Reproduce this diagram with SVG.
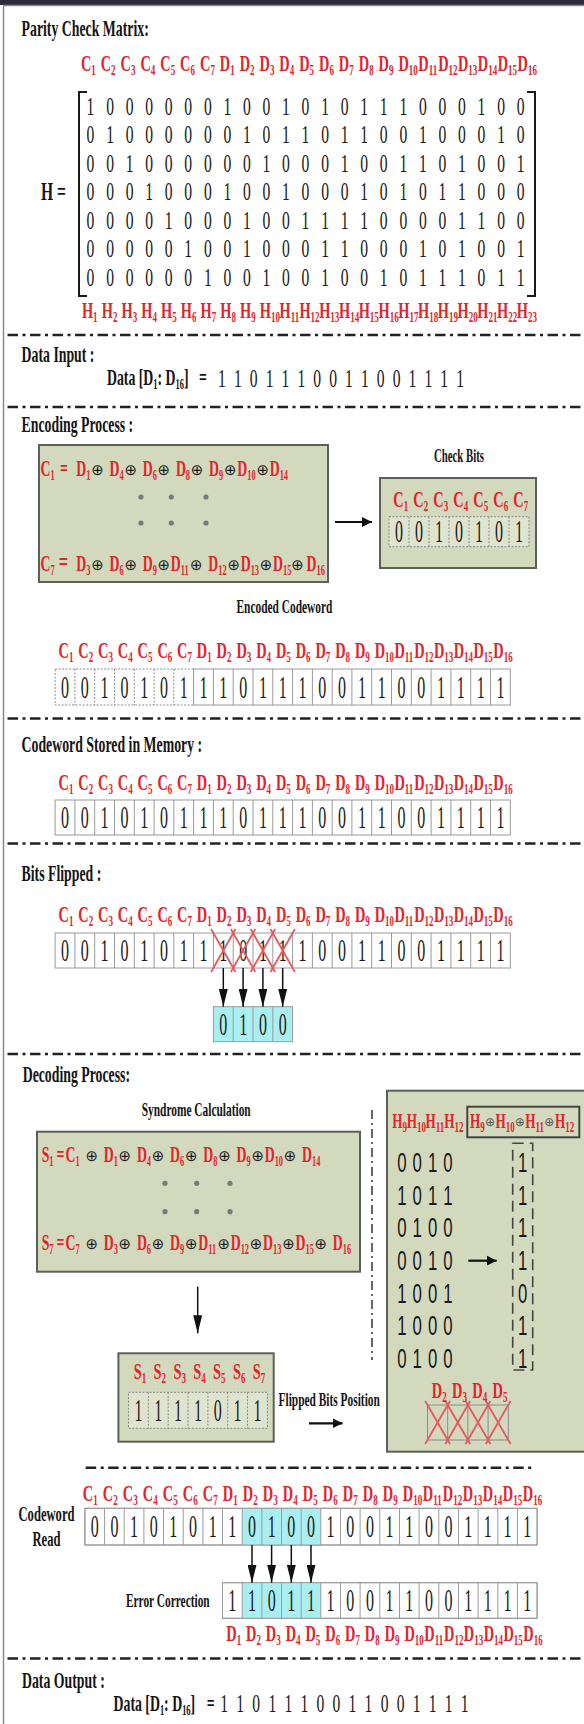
<svg xmlns="http://www.w3.org/2000/svg" width="584" height="1724" viewBox="0 0 584 1724">
<defs>
<style>
text{font-family:"Liberation Serif","Times New Roman",serif}
.hd{font-size:23px;font-weight:bold;fill:#141414}
.sm{font-size:19px;font-weight:bold;fill:#141414}
.lb{font-size:24px;font-weight:bold;fill:#e3242b}
.eq{font-size:23px;font-weight:bold;fill:#e3242b}
.s{font-size:14px;baseline-shift:-3.5px}
.lb .s{font-size:15px;baseline-shift:-4px}
.mx{font-size:26px;fill:#1a1a1a;text-anchor:middle}
.cd{font-size:32px;fill:#1a1a1a;text-anchor:middle}
.dd{font-size:26px;fill:#1a1a1a;text-anchor:middle}
.sn{font-family:"Liberation Sans",Arial,sans-serif;font-size:28px;fill:#1a1a1a;text-anchor:middle}
.op{font-family:"DejaVu Sans",sans-serif;font-size:15px;fill:#1a1a1a;text-anchor:middle}
.opg{font-family:"DejaVu Sans",sans-serif;font-size:12px;fill:#555;text-anchor:middle}
.sep{stroke:#222;stroke-width:2.5;stroke-dasharray:10.5 4.5 3 4.5;fill:none}
.vsep{stroke:#333;stroke-width:1.5;stroke-dasharray:9 4 2 4;fill:none}
.box{fill:#d3d9bd;stroke:#5e5e5a;stroke-width:2}
.cell{fill:#fff;stroke:#9a9a9a;stroke-width:1}
.grid{fill:none;stroke:#9a9a9a;stroke-width:1}
.dot{fill:none;stroke:#8a8a8a;stroke-width:1;stroke-dasharray:2 1.5}
.cy{fill:#a9eef0}
.xx{fill:none;stroke:#e6585e;stroke-width:1.8}
.ar{fill:none;stroke:#111;stroke-width:1.5}
.arw{fill:none;stroke:#111;stroke-width:2.2}
.pt{fill:#7a7a7a}
</style>
<marker id="head" viewBox="0 0 10 10" refX="10" refY="5" markerWidth="10" markerHeight="11" markerUnits="userSpaceOnUse" orient="auto"><path d="M0,0L10,5L0,10z" fill="#111"/></marker>
<marker id="headlong" viewBox="0 0 20 10" refX="20" refY="5" markerWidth="18" markerHeight="9" markerUnits="userSpaceOnUse" orient="auto"><path d="M0,0L20,5L0,10z" fill="#111"/></marker>
</defs>

<rect width="584" height="1724" fill="#fff"/>

<!-- outer frame -->
<g id="frame">
<rect x="0" y="0" width="584" height="5" fill="#2c2c3c"/>
<path d="M3.5 5.5H584M3.5 5.5V1724" fill="none" stroke="#8a8a8a" stroke-width="1.5"/>
</g>

<!-- section separators -->
<g id="separators">
<path class="sep" d="M7.5 335H584M7.5 407H584M7.5 718.5H584M7.5 843.5H584M7.5 1054H584M7.5 1658.5H584"/>
<path class="sep" d="M85.7 1467.7H532.5"/>
<path class="vsep" d="M372 1110V1360"/>
</g>

<!-- parity check matrix -->
<g id="parity-matrix">
<path d="M87 92H79V296H87M527 92H535V296H527" fill="none" stroke="#1a1a1a" stroke-width="2"/>
<g transform="scale(0.6 1)">
<text class="hd" x="36" y="36">Parity Check Matrix:</text>
<text class="lb" y="71"><tspan x="134.8">C</tspan><tspan class="s">1</tspan><tspan x="167.8">C</tspan><tspan class="s">2</tspan><tspan x="200.9">C</tspan><tspan class="s">3</tspan><tspan x="234">C</tspan><tspan class="s">4</tspan><tspan x="267.1">C</tspan><tspan class="s">5</tspan><tspan x="300.2">C</tspan><tspan class="s">6</tspan><tspan x="333.3">C</tspan><tspan class="s">7</tspan><tspan x="366.3">D</tspan><tspan class="s">1</tspan><tspan x="399.4">D</tspan><tspan class="s">2</tspan><tspan x="432.5">D</tspan><tspan class="s">3</tspan><tspan x="465.6">D</tspan><tspan class="s">4</tspan><tspan x="498.7">D</tspan><tspan class="s">5</tspan><tspan x="531.8">D</tspan><tspan class="s">6</tspan><tspan x="564.8">D</tspan><tspan class="s">7</tspan><tspan x="597.9">D</tspan><tspan class="s">8</tspan><tspan x="631">D</tspan><tspan class="s">9</tspan><tspan x="664.1">D</tspan><tspan class="s">10</tspan><tspan x="697.2">D</tspan><tspan class="s">11</tspan><tspan x="730.3">D</tspan><tspan class="s">12</tspan><tspan x="763.3">D</tspan><tspan class="s">13</tspan><tspan x="796.4">D</tspan><tspan class="s">14</tspan><tspan x="829.5">D</tspan><tspan class="s">15</tspan><tspan x="862.6">D</tspan><tspan class="s">16</tspan></text>
<text class="hd" x="68.3" y="200.3" style="font-size:26px">H =</text>
<text class="mx" x="150.8 183.4 216 248.6 281.2 313.7 346.3 378.9 411.5 444.1 476.7 509.2 541.8 574.4 607 639.6 672.2 704.7 737.3 769.9 802.5 835.1 867.7" y="115">10000001001010111000100</text>
<text class="mx" x="150.8 183.4 216 248.6 281.2 313.7 346.3 378.9 411.5 444.1 476.7 509.2 541.8 574.4 607 639.6 672.2 704.7 737.3 769.9 802.5 835.1 867.7" y="143.5">01000000101101100100010</text>
<text class="mx" x="150.8 183.4 216 248.6 281.2 313.7 346.3 378.9 411.5 444.1 476.7 509.2 541.8 574.4 607 639.6 672.2 704.7 737.3 769.9 802.5 835.1 867.7" y="172">00100000010001001101001</text>
<text class="mx" x="150.8 183.4 216 248.6 281.2 313.7 346.3 378.9 411.5 444.1 476.7 509.2 541.8 574.4 607 639.6 672.2 704.7 737.3 769.9 802.5 835.1 867.7" y="200.5">00010001001000101011000</text>
<text class="mx" x="150.8 183.4 216 248.6 281.2 313.7 346.3 378.9 411.5 444.1 476.7 509.2 541.8 574.4 607 639.6 672.2 704.7 737.3 769.9 802.5 835.1 867.7" y="229">00001000100111100001100</text>
<text class="mx" x="150.8 183.4 216 248.6 281.2 313.7 346.3 378.9 411.5 444.1 476.7 509.2 541.8 574.4 607 639.6 672.2 704.7 737.3 769.9 802.5 835.1 867.7" y="257.5">00000100100011000101001</text>
<text class="mx" x="150.8 183.4 216 248.6 281.2 313.7 346.3 378.9 411.5 444.1 476.7 509.2 541.8 574.4 607 639.6 672.2 704.7 737.3 769.9 802.5 835.1 867.7" y="286">00000010010010010111011</text>
<text class="lb" y="318"><tspan x="136.5">H</tspan><tspan class="s">1</tspan><tspan x="169.5">H</tspan><tspan class="s">2</tspan><tspan x="202.4">H</tspan><tspan class="s">3</tspan><tspan x="235.4">H</tspan><tspan class="s">4</tspan><tspan x="268.3">H</tspan><tspan class="s">5</tspan><tspan x="301.3">H</tspan><tspan class="s">6</tspan><tspan x="334.2">H</tspan><tspan class="s">7</tspan><tspan x="367.2">H</tspan><tspan class="s">8</tspan><tspan x="400.1">H</tspan><tspan class="s">9</tspan><tspan x="433.1">H</tspan><tspan class="s">10</tspan><tspan x="466">H</tspan><tspan class="s">11</tspan><tspan x="499">H</tspan><tspan class="s">12</tspan><tspan x="531.9">H</tspan><tspan class="s">13</tspan><tspan x="564.9">H</tspan><tspan class="s">14</tspan><tspan x="597.8">H</tspan><tspan class="s">15</tspan><tspan x="630.8">H</tspan><tspan class="s">16</tspan><tspan x="663.7">H</tspan><tspan class="s">17</tspan><tspan x="696.7">H</tspan><tspan class="s">18</tspan><tspan x="729.6">H</tspan><tspan class="s">19</tspan><tspan x="762.6">H</tspan><tspan class="s">20</tspan><tspan x="795.5">H</tspan><tspan class="s">21</tspan><tspan x="828.5">H</tspan><tspan class="s">22</tspan><tspan x="861.4">H</tspan><tspan class="s">23</tspan></text>
</g>
</g>

<!-- data input -->
<g id="data-input">
<g transform="scale(0.6 1)">
<text class="hd" x="36" y="362">Data Input :</text>
<text class="hd" x="178.3" y="385">Data [D<tspan class="s">1</tspan>: D<tspan class="s">16</tspan>]</text>
<text class="hd" x="331.7" y="385">=</text>
<text class="dd" x="370 396.5 422.9 449.4 475.8 502.3 528.7 555.2 581.6 608.1 634.5 661 687.4 713.9 740.3 766.8" y="387">1101110011001111</text>
</g>
</g>

<!-- encoding process -->
<g id="encoding">
<rect class="box" x="39" y="445" width="289" height="137"/>
<circle class="pt" cx="141" cy="497" r="2.6"/><circle class="pt" cx="171.3" cy="497" r="2.6"/><circle class="pt" cx="206" cy="497" r="2.6"/>
<circle class="pt" cx="141" cy="523" r="2.6"/><circle class="pt" cx="171.3" cy="523" r="2.6"/><circle class="pt" cx="206" cy="523" r="2.6"/>
<text class="op" x="97.5" y="475">⊕</text><text class="op" x="130.7" y="475">⊕</text><text class="op" x="163.9" y="475">⊕</text><text class="op" x="197.1" y="475">⊕</text><text class="op" x="230.3" y="475">⊕</text><text class="op" x="262.7" y="475">⊕</text>
<text class="op" x="97.5" y="569.5">⊕</text><text class="op" x="130.7" y="569.5">⊕</text><text class="op" x="163.9" y="569.5">⊕</text><text class="op" x="196.3" y="569.5">⊕</text><text class="op" x="233.7" y="569.5">⊕</text><text class="op" x="266.1" y="569.5">⊕</text><text class="op" x="297.5" y="569.5">⊕</text>
<rect class="box" x="380" y="478" width="156" height="90"/>
<rect x="389" y="516.7" width="140" height="30" fill="#dfe4cf"/>
<rect class="dot" x="389" y="516.7" width="140" height="30"/>
<path class="dot" d="M409 516.7v30M429 516.7v30M449 516.7v30M469 516.7v30M489 516.7v30M509 516.7v30"/>
<g transform="scale(0.6 1)">
<text class="hd" x="36" y="432">Encoding Process :</text>
<text class="eq" y="476.5"><tspan x="67.5">C</tspan><tspan class="s">1</tspan><tspan x="100">=</tspan><tspan x="127.2">D</tspan><tspan class="s">1</tspan><tspan x="182.5">D</tspan><tspan class="s">4</tspan><tspan x="237.8">D</tspan><tspan class="s">6</tspan><tspan x="293.2">D</tspan><tspan class="s">8</tspan><tspan x="348.5">D</tspan><tspan class="s">9</tspan><tspan x="395.5">D</tspan><tspan class="s">10</tspan><tspan x="449.5">D</tspan><tspan class="s">14</tspan></text>
<text class="eq" y="571"><tspan x="67.5">C</tspan><tspan class="s">7</tspan><tspan x="98" style="font-size:27px">=</tspan><tspan x="127.2">D</tspan><tspan class="s">3</tspan><tspan x="182.5">D</tspan><tspan class="s">6</tspan><tspan x="237.8">D</tspan><tspan class="s">9</tspan><tspan x="284.8">D</tspan><tspan class="s">11</tspan><tspan x="347.2">D</tspan><tspan class="s">12</tspan><tspan x="401.2">D</tspan><tspan class="s">13</tspan><tspan x="455.2">D</tspan><tspan class="s">15</tspan><tspan x="511">D</tspan><tspan class="s">16</tspan></text>
<text class="hd" x="723.3" y="461.7" style="font-size:18px">Check Bits</text>
<text class="lb" y="507"><tspan x="655.4">C</tspan><tspan class="s">1</tspan><tspan x="688.8">C</tspan><tspan class="s">2</tspan><tspan x="722.1">C</tspan><tspan class="s">3</tspan><tspan x="755.4">C</tspan><tspan class="s">4</tspan><tspan x="788.8">C</tspan><tspan class="s">5</tspan><tspan x="822.1">C</tspan><tspan class="s">6</tspan><tspan x="855.4">C</tspan><tspan class="s">7</tspan></text>
<text class="sm" x="394.2" y="613">Encoded Codeword</text>
<text class="lb" y="658"><tspan x="97.6">C</tspan><tspan class="s">1</tspan><tspan x="130.5">C</tspan><tspan class="s">2</tspan><tspan x="163.5">C</tspan><tspan class="s">3</tspan><tspan x="196.4">C</tspan><tspan class="s">4</tspan><tspan x="229.3">C</tspan><tspan class="s">5</tspan><tspan x="262.3">C</tspan><tspan class="s">6</tspan><tspan x="295.2">C</tspan><tspan class="s">7</tspan><tspan x="328.1">D</tspan><tspan class="s">1</tspan><tspan x="361">D</tspan><tspan class="s">2</tspan><tspan x="394">D</tspan><tspan class="s">3</tspan><tspan x="426.9">D</tspan><tspan class="s">4</tspan><tspan x="459.8">D</tspan><tspan class="s">5</tspan><tspan x="492.8">D</tspan><tspan class="s">6</tspan><tspan x="525.7">D</tspan><tspan class="s">7</tspan><tspan x="558.6">D</tspan><tspan class="s">8</tspan><tspan x="591.6">D</tspan><tspan class="s">9</tspan><tspan x="624.5">D</tspan><tspan class="s">10</tspan><tspan x="657.4">D</tspan><tspan class="s">11</tspan><tspan x="690.3">D</tspan><tspan class="s">12</tspan><tspan x="723.3">D</tspan><tspan class="s">13</tspan><tspan x="756.2">D</tspan><tspan class="s">14</tspan><tspan x="789.1">D</tspan><tspan class="s">15</tspan><tspan x="822.1">D</tspan><tspan class="s">16</tspan></text>
</g>
<rect class="dot" x="55.1" y="669" width="138.5" height="36"/>
<path class="dot" d="M74.9 669v36M94.7 669v36M114.5 669v36M134.3 669v36M154.1 669v36M173.8 669v36"/>
<rect class="cell" x="193.6" y="669" width="316.7" height="36"/>
<path class="grid" d="M213.4 669v36M233.2 669v36M253 669v36M272.8 669v36M292.6 669v36M312.4 669v36M332.2 669v36M351.9 669v36M371.7 669v36M391.5 669v36M411.3 669v36M431.1 669v36M450.9 669v36M470.7 669v36M490.5 669v36"/>
<g transform="scale(0.5 1)">
<text class="cd" x="798 838 878 918 958 998 1038" y="542.5">0010101</text>
<text class="cd" x="130 169.6 209.2 248.8 288.4 327.9 367.5 407.1 446.7 486.3 525.9 565.4 605 644.6 684.2 723.8 763.4 802.9 842.5 882.1 921.7 961.3 1000.8" y="698">00101011101110011001111</text>
</g>
</g>

<!-- codeword stored in memory -->
<g id="stored">
<rect class="cell" x="55.1" y="800" width="455.2" height="35"/>
<path class="grid" d="M74.9 800v35M94.7 800v35M114.5 800v35M134.3 800v35M154.1 800v35M173.8 800v35M193.6 800v35M213.4 800v35M233.2 800v35M253 800v35M272.8 800v35M292.6 800v35M312.4 800v35M332.2 800v35M351.9 800v35M371.7 800v35M391.5 800v35M411.3 800v35M431.1 800v35M450.9 800v35M470.7 800v35M490.5 800v35"/>
<g transform="scale(0.6 1)">
<text class="hd" x="36" y="751.7">Codeword Stored in Memory :</text>
<text class="lb" y="790"><tspan x="97.6">C</tspan><tspan class="s">1</tspan><tspan x="130.5">C</tspan><tspan class="s">2</tspan><tspan x="163.5">C</tspan><tspan class="s">3</tspan><tspan x="196.4">C</tspan><tspan class="s">4</tspan><tspan x="229.3">C</tspan><tspan class="s">5</tspan><tspan x="262.3">C</tspan><tspan class="s">6</tspan><tspan x="295.2">C</tspan><tspan class="s">7</tspan><tspan x="328.1">D</tspan><tspan class="s">1</tspan><tspan x="361">D</tspan><tspan class="s">2</tspan><tspan x="394">D</tspan><tspan class="s">3</tspan><tspan x="426.9">D</tspan><tspan class="s">4</tspan><tspan x="459.8">D</tspan><tspan class="s">5</tspan><tspan x="492.8">D</tspan><tspan class="s">6</tspan><tspan x="525.7">D</tspan><tspan class="s">7</tspan><tspan x="558.6">D</tspan><tspan class="s">8</tspan><tspan x="591.6">D</tspan><tspan class="s">9</tspan><tspan x="624.5">D</tspan><tspan class="s">10</tspan><tspan x="657.4">D</tspan><tspan class="s">11</tspan><tspan x="690.3">D</tspan><tspan class="s">12</tspan><tspan x="723.3">D</tspan><tspan class="s">13</tspan><tspan x="756.2">D</tspan><tspan class="s">14</tspan><tspan x="789.1">D</tspan><tspan class="s">15</tspan><tspan x="822.1">D</tspan><tspan class="s">16</tspan></text>
</g>
<g transform="scale(0.5 1)">
<text class="cd" x="130 169.6 209.2 248.8 288.4 327.9 367.5 407.1 446.7 486.3 525.9 565.4 605 644.6 684.2 723.8 763.4 802.9 842.5 882.1 921.7 961.3 1000.8" y="828.5">00101011101110011001111</text>
</g>
</g>

<!-- bits flipped -->
<g id="flipped">
<rect class="cell" x="55.1" y="933" width="455.2" height="35"/>
<path class="grid" d="M74.9 933v35M94.7 933v35M114.5 933v35M134.3 933v35M154.1 933v35M173.8 933v35M193.6 933v35M213.4 933v35M233.2 933v35M253 933v35M272.8 933v35M292.6 933v35M312.4 933v35M332.2 933v35M351.9 933v35M371.7 933v35M391.5 933v35M411.3 933v35M431.1 933v35M450.9 933v35M470.7 933v35M490.5 933v35"/>
<rect class="cell cy" x="213.4" y="1006.7" width="79.2" height="35"/>
<path class="grid" d="M233.2 1006.7v35M253 1006.7v35M272.8 1006.7v35"/>
<g transform="scale(0.6 1)">
<text class="hd" x="36" y="881">Bits Flipped :</text>
<text class="lb" y="922"><tspan x="97.6">C</tspan><tspan class="s">1</tspan><tspan x="130.5">C</tspan><tspan class="s">2</tspan><tspan x="163.5">C</tspan><tspan class="s">3</tspan><tspan x="196.4">C</tspan><tspan class="s">4</tspan><tspan x="229.3">C</tspan><tspan class="s">5</tspan><tspan x="262.3">C</tspan><tspan class="s">6</tspan><tspan x="295.2">C</tspan><tspan class="s">7</tspan><tspan x="328.1">D</tspan><tspan class="s">1</tspan><tspan x="361">D</tspan><tspan class="s">2</tspan><tspan x="394">D</tspan><tspan class="s">3</tspan><tspan x="426.9">D</tspan><tspan class="s">4</tspan><tspan x="459.8">D</tspan><tspan class="s">5</tspan><tspan x="492.8">D</tspan><tspan class="s">6</tspan><tspan x="525.7">D</tspan><tspan class="s">7</tspan><tspan x="558.6">D</tspan><tspan class="s">8</tspan><tspan x="591.6">D</tspan><tspan class="s">9</tspan><tspan x="624.5">D</tspan><tspan class="s">10</tspan><tspan x="657.4">D</tspan><tspan class="s">11</tspan><tspan x="690.3">D</tspan><tspan class="s">12</tspan><tspan x="723.3">D</tspan><tspan class="s">13</tspan><tspan x="756.2">D</tspan><tspan class="s">14</tspan><tspan x="789.1">D</tspan><tspan class="s">15</tspan><tspan x="822.1">D</tspan><tspan class="s">16</tspan></text>
</g>
<g transform="scale(0.5 1)">
<text class="cd" x="130 169.6 209.2 248.8 288.4 327.9 367.5 407.1 446.7 486.3 525.9 565.4 605 644.6 684.2 723.8 763.4 802.9 842.5 882.1 921.7 961.3 1000.8" y="961.3">00101011101110011001111</text>
<text class="cd" x="446.7 486.3 525.9 565.4" y="1035">0100</text>
</g>
<path class="xx" d="M211.1 929L235.5 972M235.5 929L211.1 972M230.9 929L255.3 972M255.3 929L230.9 972M250.7 929L275.1 972M275.1 929L250.7 972M270.5 929L294.9 972M294.9 929L270.5 972"/>
</g>

<!-- decoding process -->
<g id="decoding">
<rect class="box" x="37" y="1131.7" width="323" height="140"/>
<circle class="pt" cx="165" cy="1183.3" r="2.6"/><circle class="pt" cx="196.7" cy="1183.3" r="2.6"/><circle class="pt" cx="230" cy="1183.3" r="2.6"/>
<circle class="pt" cx="165" cy="1211.7" r="2.6"/><circle class="pt" cx="196.7" cy="1211.7" r="2.6"/><circle class="pt" cx="230" cy="1211.7" r="2.6"/>
<text class="op" x="91.7" y="1160.5">⊕</text><text class="op" x="124.9" y="1160.5">⊕</text><text class="op" x="158.1" y="1160.5">⊕</text><text class="op" x="191.3" y="1160.5">⊕</text><text class="op" x="224.5" y="1160.5">⊕</text><text class="op" x="257.7" y="1160.5">⊕</text><text class="op" x="290.1" y="1160.5">⊕</text>
<text class="op" x="91.7" y="1248.5">⊕</text><text class="op" x="124.9" y="1248.5">⊕</text><text class="op" x="158.1" y="1248.5">⊕</text><text class="op" x="191.3" y="1248.5">⊕</text><text class="op" x="223.7" y="1248.5">⊕</text><text class="op" x="256.1" y="1248.5">⊕</text><text class="op" x="288.5" y="1248.5">⊕</text><text class="op" x="320.9" y="1248.5">⊕</text>
<rect class="box" x="118.4" y="1353.3" width="155.3" height="88.4"/>
<rect x="128.5" y="1392.3" width="138.9" height="36" fill="#dfe4cf"/>
<rect class="dot" x="128.5" y="1392.3" width="138.9" height="36"/>
<path class="dot" d="M148.3 1392.3v36M168.2 1392.3v36M188 1392.3v36M207.9 1392.3v36M227.7 1392.3v36M247.5 1392.3v36"/>
<rect class="box" x="387" y="1090.7" width="210" height="361"/>
<rect x="467.3" y="1106.7" width="112" height="30.6" fill="none" stroke="#444" stroke-width="2"/>
<text class="opg" x="490" y="1126">⊕</text><text class="opg" x="519.7" y="1126">⊕</text><text class="opg" x="549.4" y="1126">⊕</text>
<rect x="512.7" y="1143.3" width="20" height="226.7" fill="none" stroke="#444" stroke-width="1.6" stroke-dasharray="11 6"/>
<rect x="427.5" y="1405" width="80.8" height="35" fill="none" stroke="#8a8a8a" stroke-width="1"/>
<path d="M447.7 1405v35M467.9 1405v35M488.1 1405v35" fill="none" stroke="#8a8a8a" stroke-width="1"/>
<path class="xx" d="M425.2 1401L450 1444M450 1401L425.2 1444M445.4 1401L470.2 1444M470.2 1401L445.4 1444M465.6 1401L490.4 1444M490.4 1401L465.6 1444M485.8 1401L510.6 1444M510.6 1401L485.8 1444"/>
<g transform="scale(0.6 1)">
<text class="hd" x="37.8" y="1081.7">Decoding Process:</text>
<text class="sm" x="236.2" y="1116">Syndrome Calculation</text>
<text class="eq" y="1162"><tspan x="69.5">S</tspan><tspan class="s">1</tspan><tspan x="94.3">=</tspan><tspan x="109.2">C</tspan><tspan class="s">1</tspan><tspan x="172.8">D</tspan><tspan class="s">1</tspan><tspan x="228.2">D</tspan><tspan class="s">4</tspan><tspan x="283.5">D</tspan><tspan class="s">6</tspan><tspan x="338.8">D</tspan><tspan class="s">8</tspan><tspan x="394.2">D</tspan><tspan class="s">9</tspan><tspan x="441.2">D</tspan><tspan class="s">10</tspan><tspan x="503.5">D</tspan><tspan class="s">14</tspan></text>
<text class="eq" y="1250"><tspan x="69.5">S</tspan><tspan class="s">7</tspan><tspan x="94.3">=</tspan><tspan x="109.2">C</tspan><tspan class="s">7</tspan><tspan x="172.8">D</tspan><tspan class="s">3</tspan><tspan x="228.2">D</tspan><tspan class="s">6</tspan><tspan x="283.5">D</tspan><tspan class="s">9</tspan><tspan x="330.5">D</tspan><tspan class="s">11</tspan><tspan x="384.5">D</tspan><tspan class="s">12</tspan><tspan x="438.5">D</tspan><tspan class="s">13</tspan><tspan x="492.5">D</tspan><tspan class="s">15</tspan><tspan x="554.8">D</tspan><tspan class="s">16</tspan></text>
<text class="lb" y="1379"><tspan x="222.8">S</tspan><tspan class="s">1</tspan><tspan x="255.9">S</tspan><tspan class="s">2</tspan><tspan x="289">S</tspan><tspan class="s">3</tspan><tspan x="322">S</tspan><tspan class="s">4</tspan><tspan x="355.1">S</tspan><tspan class="s">5</tspan><tspan x="388.2">S</tspan><tspan class="s">6</tspan><tspan x="421.2">S</tspan><tspan class="s">7</tspan></text>
<text class="sm" x="464.3" y="1406">Flipped Bits Position</text>
<text class="lb" y="1128" style="font-size:22px"><tspan x="653.8">H</tspan><tspan class="s">9</tspan><tspan x="678">H</tspan><tspan class="s">10</tspan><tspan x="709.2">H</tspan><tspan class="s">11</tspan><tspan x="740.3">H</tspan><tspan class="s">12</tspan></text>
<text class="lb" y="1128" style="font-size:22px"><tspan x="783.3">H</tspan><tspan class="s">9</tspan><tspan x="825.8">H</tspan><tspan class="s">10</tspan><tspan x="875.3">H</tspan><tspan class="s">11</tspan><tspan x="924.8">H</tspan><tspan class="s">12</tspan></text>
<text class="sn" x="670 695.5 721 746.5" y="1172">0010</text>
<text class="sn" x="670 695.5 721 746.5" y="1204.7">1011</text>
<text class="sn" x="670 695.5 721 746.5" y="1237.3">0100</text>
<text class="sn" x="670 695.5 721 746.5" y="1270">0010</text>
<text class="sn" x="670 695.5 721 746.5" y="1302.7">1001</text>
<text class="sn" x="670 695.5 721 746.5" y="1335.3">1000</text>
<text class="sn" x="670 695.5 721 746.5" y="1368">0100</text>
<text class="sn" x="871.2" y="1172">1</text>
<text class="sn" x="871.2" y="1204.7">1</text>
<text class="sn" x="871.2" y="1237.3">1</text>
<text class="sn" x="871.2" y="1270">1</text>
<text class="sn" x="871.2" y="1302.7">0</text>
<text class="sn" x="871.2" y="1335.3">1</text>
<text class="sn" x="871.2" y="1368">1</text>
<text class="lb" y="1398"><tspan x="719.8">D</tspan><tspan class="s">2</tspan><tspan x="753.4">D</tspan><tspan class="s">3</tspan><tspan x="787.1">D</tspan><tspan class="s">4</tspan><tspan x="820.8">D</tspan><tspan class="s">5</tspan></text>
</g>
<g transform="scale(0.5 1)">
<text class="cd" x="276.8 316.5 356.2 395.8 435.5 475.2 514.9" y="1421.1">1111011</text>
</g>
</g>

<!-- codeword read and error correction -->
<g id="correction">
<rect class="cell" x="84.9" y="1508.3" width="452.2" height="36.7"/>
<rect class="cy" x="242.2" y="1508.3" width="78.6" height="36.7"/>
<path class="grid" d="M84.9 1508.3h452.2v36.7h-452.2zM104.6 1508.3v36.7M124.2 1508.3v36.7M143.9 1508.3v36.7M163.5 1508.3v36.7M183.2 1508.3v36.7M202.9 1508.3v36.7M222.5 1508.3v36.7M242.2 1508.3v36.7M261.8 1508.3v36.7M281.5 1508.3v36.7M301.2 1508.3v36.7M320.8 1508.3v36.7M340.5 1508.3v36.7M360.1 1508.3v36.7M379.8 1508.3v36.7M399.5 1508.3v36.7M419.1 1508.3v36.7M438.8 1508.3v36.7M458.4 1508.3v36.7M478.1 1508.3v36.7M497.8 1508.3v36.7M517.4 1508.3v36.7"/>
<rect class="cell" x="222.5" y="1582.7" width="314.6" height="35.6"/>
<rect class="cy" x="242.2" y="1582.7" width="78.6" height="35.6"/>
<path class="grid" d="M222.5 1582.7h314.6v35.6h-314.6zM242.2 1582.7v35.6M261.8 1582.7v35.6M281.5 1582.7v35.6M301.2 1582.7v35.6M320.8 1582.7v35.6M340.5 1582.7v35.6M360.1 1582.7v35.6M379.8 1582.7v35.6M399.5 1582.7v35.6M419.1 1582.7v35.6M438.8 1582.7v35.6M458.4 1582.7v35.6M478.1 1582.7v35.6M497.8 1582.7v35.6M517.4 1582.7v35.6"/>
<g transform="scale(0.6 1)">
<text class="lb" y="1501"><tspan x="137.9">C</tspan><tspan class="s">1</tspan><tspan x="171.3">C</tspan><tspan class="s">2</tspan><tspan x="204.6">C</tspan><tspan class="s">3</tspan><tspan x="237.9">C</tspan><tspan class="s">4</tspan><tspan x="271.3">C</tspan><tspan class="s">5</tspan><tspan x="304.6">C</tspan><tspan class="s">6</tspan><tspan x="337.9">C</tspan><tspan class="s">7</tspan><tspan x="371.3">D</tspan><tspan class="s">1</tspan><tspan x="404.6">D</tspan><tspan class="s">2</tspan><tspan x="437.9">D</tspan><tspan class="s">3</tspan><tspan x="471.3">D</tspan><tspan class="s">4</tspan><tspan x="504.6">D</tspan><tspan class="s">5</tspan><tspan x="537.9">D</tspan><tspan class="s">6</tspan><tspan x="571.3">D</tspan><tspan class="s">7</tspan><tspan x="604.6">D</tspan><tspan class="s">8</tspan><tspan x="637.9">D</tspan><tspan class="s">9</tspan><tspan x="671.3">D</tspan><tspan class="s">10</tspan><tspan x="704.6">D</tspan><tspan class="s">11</tspan><tspan x="737.9">D</tspan><tspan class="s">12</tspan><tspan x="771.3">D</tspan><tspan class="s">13</tspan><tspan x="804.6">D</tspan><tspan class="s">14</tspan><tspan x="837.9">D</tspan><tspan class="s">15</tspan><tspan x="871.3">D</tspan><tspan class="s">16</tspan></text>
<text class="hd" x="77.5" y="1521" style="font-size:21px;text-anchor:middle">Codeword</text>
<text class="hd" x="77.5" y="1546" style="font-size:21px;text-anchor:middle">Read</text>
<text class="sm" x="209.8" y="1607">Error Correction</text>
<text class="lb" y="1641"><tspan x="377.1">D</tspan><tspan class="s">1</tspan><tspan x="410.1">D</tspan><tspan class="s">2</tspan><tspan x="443.1">D</tspan><tspan class="s">3</tspan><tspan x="476.1">D</tspan><tspan class="s">4</tspan><tspan x="509.1">D</tspan><tspan class="s">5</tspan><tspan x="542.1">D</tspan><tspan class="s">6</tspan><tspan x="575.1">D</tspan><tspan class="s">7</tspan><tspan x="608.1">D</tspan><tspan class="s">8</tspan><tspan x="641.1">D</tspan><tspan class="s">9</tspan><tspan x="674.1">D</tspan><tspan class="s">10</tspan><tspan x="707.1">D</tspan><tspan class="s">11</tspan><tspan x="740.1">D</tspan><tspan class="s">12</tspan><tspan x="773.1">D</tspan><tspan class="s">13</tspan><tspan x="806.1">D</tspan><tspan class="s">14</tspan><tspan x="839.1">D</tspan><tspan class="s">15</tspan><tspan x="872.1">D</tspan><tspan class="s">16</tspan></text>
</g>
<g transform="scale(0.5 1)">
<text class="cd" x="189.5 228.8 268.1 307.4 346.7 386 425.3 464.7 504 543.3 582.6 621.9 661.2 700.5 739.8 779.1 818.5 857.8 897.1 936.4 975.7 1015 1054.4" y="1537.5">00101011010010011001111</text>
<text class="cd" x="464.7 504 543.3 582.6 621.9 661.2 700.5 739.8 779.1 818.5 857.8 897.1 936.4 975.7 1015 1054.4" y="1611.3">1101110011001111</text>
</g>
</g>

<!-- data output -->
<g id="data-output">
<g transform="scale(0.6 1)">
<text class="hd" x="36.7" y="1688">Data Output :</text>
<text class="hd" x="189.3" y="1711">Data [D<tspan class="s">1</tspan>: D<tspan class="s">16</tspan>]</text>
<text class="hd" x="344.5" y="1711">=</text>
<text class="dd" x="373.7 400.4 427.1 453.9 480.6 507.3 534 560.7 587.5 614.2 640.9 667.6 694.3 721.1 747.8 774.5" y="1712">1101110011001111</text>
</g>
</g>

<!-- arrows -->
<g id="connectors">
<path class="arw" d="M335 522H372" marker-end="url(#head)"/>
<path class="ar" d="M223.3 968V1006.7" marker-end="url(#headlong)"/>
<path class="ar" d="M243.1 968V1006.7" marker-end="url(#headlong)"/>
<path class="ar" d="M262.9 968V1006.7" marker-end="url(#headlong)"/>
<path class="ar" d="M282.7 968V1006.7" marker-end="url(#headlong)"/>
<path class="ar" d="M197.7 1286.7V1333.3" marker-end="url(#headlong)"/>
<path class="arw" d="M309 1423.3H342.6" marker-end="url(#head)"/>
<path class="arw" d="M468.3 1260.7H496.7" marker-end="url(#head)"/>
<path class="ar" d="M252 1545V1582.7" marker-end="url(#headlong)"/>
<path class="ar" d="M271.6 1545V1582.7" marker-end="url(#headlong)"/>
<path class="ar" d="M291.3 1545V1582.7" marker-end="url(#headlong)"/>
<path class="ar" d="M311 1545V1582.7" marker-end="url(#headlong)"/>
</g>
</svg>
